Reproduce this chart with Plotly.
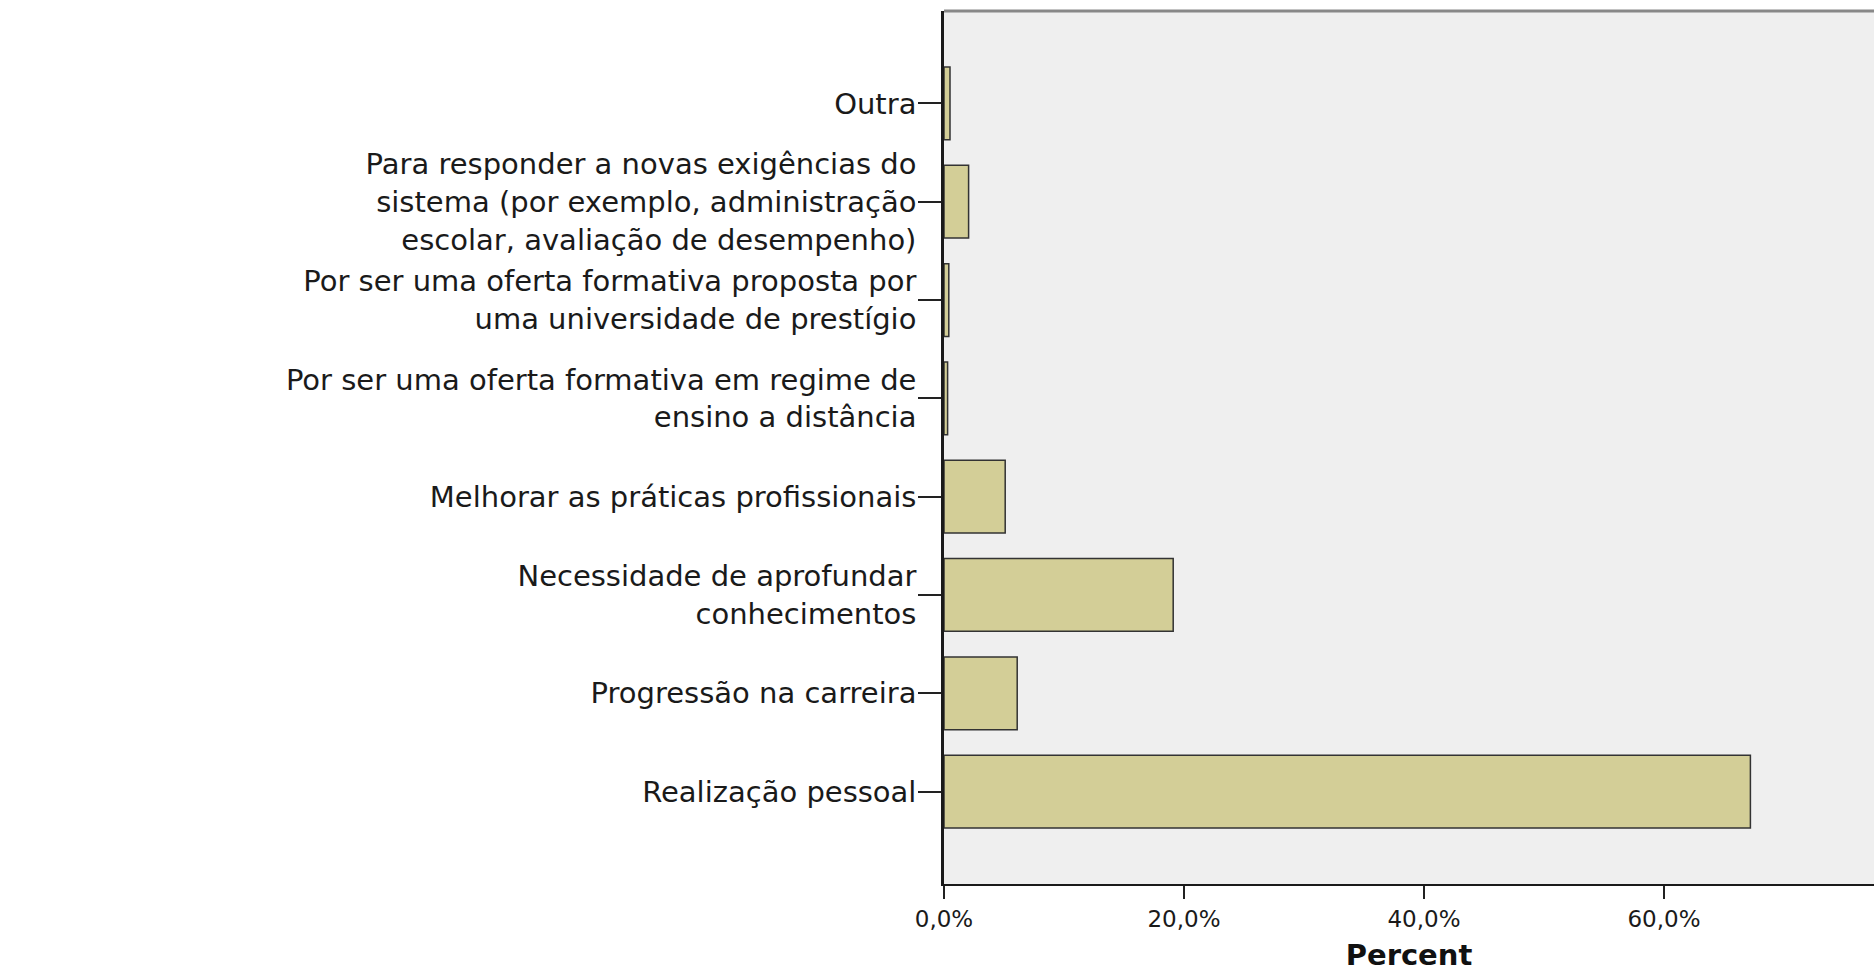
import plotly.graph_objects as go

# ---- data (bottom to top) ----
categories = [
    "Realização pessoal",
    "Progressão na carreira",
    "Necessidade de aprofundar<br>conhecimentos",
    "Melhorar as práticas profissionais",
    "Por ser uma oferta formativa em regime de<br>ensino a distância",
    "Por ser uma oferta formativa proposta por<br>uma universidade de prestígio",
    "Para responder a novas exigências do<br>sistema (por exemplo, administração<br>escolar, avaliação de desempenho)",
    "Outra",
]
percent = [67.2, 6.1, 19.1, 5.1, 0.3, 0.4, 2.05, 0.5]
x_tick_vals = [0, 20, 40, 60]
x_tick_text = ["0,0%", "20,0%", "40,0%", "60,0%"]
x_title = "Percent"

BAR_COLOR = "#D3CE97"
LABEL_FONT = "DejaVu Sans, Verdana, Arial, sans-serif"

fig = go.Figure()
fig.add_trace(go.Bar(
    x=percent,
    y=categories,
    orientation="h",
    width=0.74,
    marker=dict(color=BAR_COLOR, line=dict(color="#333333", width=1.5)),
    hoverinfo="x+y",
))

fig.update_layout(
    width=1874, height=972,
    margin=dict(l=944, r=0, t=11, b=88, autoexpand=False),
    paper_bgcolor="white",
    plot_bgcolor="#EFEFEF",
    showlegend=False,
    shapes=[dict(type="line", xref="paper", yref="paper", x0=0, x1=1, y0=1, y1=1,
                 line=dict(color="#888888", width=3))],
)

fig.update_xaxes(
    range=[0, 77.5],
    tickvals=x_tick_vals, ticktext=x_tick_text,
    ticks="outside", ticklen=13, tickwidth=2, tickcolor="#222222",
    tickfont=dict(family=LABEL_FONT, size=23, color="#1a1a1a"),
    showgrid=False, zeroline=False,
    showline=True, linecolor="#1a1a1a", linewidth=2,
    title=dict(text=x_title, standoff=16,
               font=dict(family=LABEL_FONT, size=29, color="#111111", weight="bold")),
    fixedrange=True,
)
fig.update_yaxes(
    type="category",
    categoryorder="array", categoryarray=categories,
    range=[-0.94, 7.94],
    tickfont=dict(family=LABEL_FONT, size=29, color="#1a1a1a"),
    ticklabelstandoff=-4,
    ticks="outside", ticklen=23, tickwidth=2, tickcolor="#222222",
    showgrid=False, zeroline=False,
    showline=True, linecolor="#1a1a1a", linewidth=2.5,
    fixedrange=True,
)

fig.write_html("out.html", config={"displayModeBar": False},
               post_script="document.body.style.margin='0';")
